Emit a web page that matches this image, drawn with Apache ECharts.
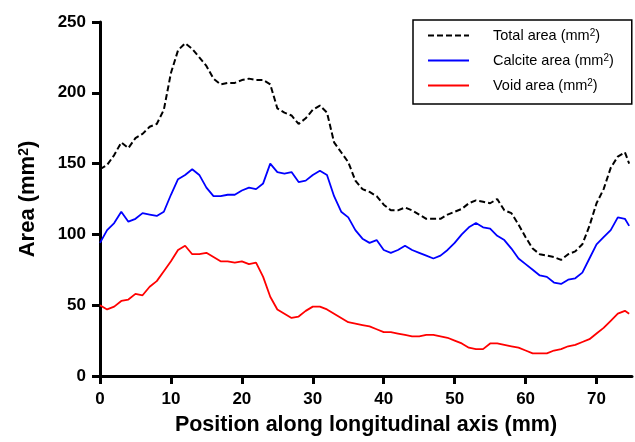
<!DOCTYPE html>
<html>
<head>
<meta charset="utf-8">
<script src="https://cdn.jsdelivr.net/npm/echarts@6/dist/echarts.min.js"></script>
<style>
  html, body { margin: 0; padding: 0; background: #fff; }
  #main { width: 635px; height: 442px; }
</style>
</head>
<body>
<div id="main"></div>
<script>
// position along axis (mm)
const positions = [0, 1, 2, 3, 4, 5, 6, 7, 8, 9, 10, 11, 12, 13, 14, 15, 16, 17, 18, 19,
  20, 21, 22, 23, 24, 25, 26, 27, 28, 29, 30, 31, 32, 33, 34, 35, 36, 37, 38, 39,
  40, 41, 42, 43, 44, 45, 46, 47, 48, 49, 50, 51, 52, 53, 54, 55, 56, 57, 58, 59,
  60, 61, 62, 63, 64, 65, 66, 67, 68, 69, 70, 71, 72, 73, 74, 74.6];

const totalArea = [146, 149, 156, 165, 161, 168, 171, 176, 178, 188, 214, 230, 235, 231, 225, 219, 210, 206, 207, 207,
  209, 210, 209, 209, 206, 189, 186, 184, 178, 182, 188, 191, 186, 165, 158, 151, 138, 132, 130, 127,
  121, 117, 117, 119, 117, 114, 111, 111, 111, 114, 116, 118, 122, 124, 123, 122, 125, 117, 115, 107,
  98, 90, 86, 85, 84, 82, 86, 88, 93, 106, 122, 132, 147, 155, 158, 150];

const calciteArea = [94, 103, 108, 116, 109, 111, 115, 114, 113, 116, 128, 139, 142, 146, 142, 133, 127, 127, 128, 128,
  131, 133, 132, 136, 150, 144, 143, 144, 137, 138, 142, 145, 142, 127, 116, 112, 103, 97, 94, 96,
  89, 87, 89, 92, 89, 87, 85, 83, 85, 89, 94, 100, 105, 108, 105, 104, 99, 96, 90, 83,
  79, 75, 71, 70, 66, 65, 68, 69, 73, 83, 93, 98, 103, 112, 111, 106];

const voidArea = [50, 47, 49, 53, 54, 58, 57, 63, 67, 74, 81, 89, 92, 86, 86, 87, 84, 81, 81, 80,
  81, 79, 80, 70, 56, 47, 44, 41, 42, 46, 49, 49, 47, 44, 41, 38, 37, 36, 35, 33,
  31, 31, 30, 29, 28, 28, 29, 29, 28, 27, 25, 23, 20, 19, 19, 23, 23, 22, 21, 20,
  18, 16, 16, 16, 18, 19, 21, 22, 24, 26, 30, 34, 39, 44, 46, 44];

const xTicks = [0, 10, 20, 30, 40, 50, 60, 70];
const seriesNames = ['Total area', 'Calcite area', 'Void area'];

const FONT = '"Liberation Sans", Arial, sans-serif';

function pairs(vals) {
  return positions.map((x, i) => [x, vals[i]]);
}

const chart = echarts.init(document.getElementById('main'));

const option = {
  animation: false,
  grid: { left: 100, right: 3, top: 22, bottom: 66 },
  legend: {
    orient: 'vertical',
    left: 413,
    top: 20,
    padding: [8, 18, 11, 14],
    itemWidth: 41,
    itemHeight: 14,
    itemGap: 10,
    borderColor: '#000',
    borderWidth: 1.5,
    itemStyle: { opacity: 0 },
    data: seriesNames,
    formatter: name => name + ' (mm{sup|2})',
    textStyle: {
      fontFamily: FONT,
      fontSize: 14.5,
      color: '#000',
      padding: [0, 0, 0, 19],
      rich: {
        sup: { fontFamily: FONT, fontSize: 10, verticalAlign: 'top', color: '#000', padding: [0, 0, 5, 0] }
      }
    }
  },
  xAxis: {
    type: 'value',
    min: 0,
    max: 75,
    interval: 10,
    name: 'Position along longitudinal axis (mm)',
    nameLocation: 'middle',
    nameGap: 38,
    nameTextStyle: { fontFamily: FONT, fontWeight: 'bold', fontSize: 21.5, color: '#000' },
    axisLine: { lineStyle: { color: '#000', width: 3 } },
    axisTick: { length: 8, lineStyle: { color: '#000', width: 3 }, customValues: xTicks },
    axisLabel: { fontFamily: FONT, fontWeight: 'bold', fontSize: 17, color: '#000', margin: 15, customValues: xTicks },
    splitLine: { show: false }
  },
  yAxis: {
    type: 'value',
    min: 0,
    max: 250,
    interval: 50,
    name: 'Area (mm{sup|2})',
    nameLocation: 'middle',
    nameGap: 61,
    nameTextStyle: {
      fontFamily: FONT, fontWeight: 'bold', fontSize: 22, color: '#000',
      rich: { sup: { fontFamily: FONT, fontWeight: 'bold', fontSize: 14, verticalAlign: 'top', color: '#000' } }
    },
    axisLine: { show: true, lineStyle: { color: '#000', width: 3 } },
    axisTick: { show: true, length: 8, lineStyle: { color: '#000', width: 3 } },
    axisLabel: { fontFamily: FONT, fontWeight: 'bold', fontSize: 17, color: '#000', margin: 14 },
    splitLine: { show: false }
  },
  series: [
    {
      name: seriesNames[0],
      type: 'line',
      symbol: 'none',
      data: pairs(totalArea),
      lineStyle: { color: '#000', width: 2, type: [6, 3] },
      itemStyle: { color: '#000' }
    },
    {
      name: seriesNames[1],
      type: 'line',
      symbol: 'none',
      data: pairs(calciteArea),
      lineStyle: { color: '#0000ff', width: 1.8 },
      itemStyle: { color: '#0000ff' }
    },
    {
      name: seriesNames[2],
      type: 'line',
      symbol: 'none',
      data: pairs(voidArea),
      lineStyle: { color: '#ff0000', width: 1.8 },
      itemStyle: { color: '#ff0000' }
    }
  ]
};

chart.setOption(option);
</script>
</body>
</html>
